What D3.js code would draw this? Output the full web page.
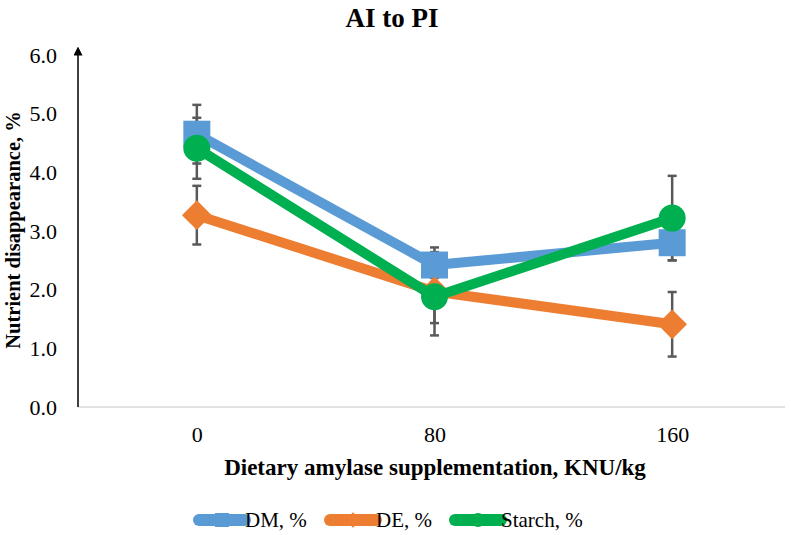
<!DOCTYPE html>
<html>
<head>
<meta charset="utf-8">
<script src="https://cdn.jsdelivr.net/npm/d3@7"></script>
<style>
  body { margin: 0; background: #fff; }
  text { font-family: "Liberation Serif", "Times New Roman", serif; fill: #000; }
  .title { font-size: 27px; font-weight: bold; }
  .axis_title { font-size: 23px; font-weight: bold; }
  .y_title { font-size: 20.5px; font-weight: bold; }
  .legend text { font-size: 21px; }
</style>
</head>
<body>
<div id="chart"></div>
<script>
const categories = ["0", "80", "160"];
const yTicks = [0, 1, 2, 3, 4, 5, 6];
const dmValues = [4.65, 2.42, 2.80];
const dmErrors = [0.50, 0.22, 0.30];
const deValues = [3.27, 1.97, 1.41];
const deErrors = [0.50, 0.75, 0.55];
const starchValues = [4.41, 1.88, 3.22];
const starchErrors = [0.52, 0.45, 0.72];

const series = [
    {name: "DM, %", values: dmValues, errors: dmErrors, color: "#5B9BD5", marker: "square"},
    {name: "DE, %", values: deValues, errors: deErrors, color: "#ED7D31", marker: "diamond"},
    {name: "Starch, %", values: starchValues, errors: starchErrors, color: "#00B050", marker: "circle"}
];

const W = 791, H = 535;
const margin = {top: 55, right: 0, bottom: 128, left: 78};
let width = W - margin.left - margin.right,
    height = H - margin.top - margin.bottom;

let svg = d3.select("#chart")
    .append("svg")
    .attr("width", W)
    .attr("height", H)
    .append("g")
    .attr("transform", "translate(" + margin.left + "," + margin.top + ")");

let x = d3.scalePoint()
    .domain(categories)
    .range([0, width])
    .padding(0.5);

let y = d3.scaleLinear()
    .domain([0, 6])
    .range([height, 0]);

// x axis (gray baseline)
svg.append("line")
    .attr("x1", 0).attr("x2", width - 6)
    .attr("y1", height).attr("y2", height)
    .attr("stroke", "#d9d9d9")
    .attr("stroke-width", 1.5);

svg.append("g")
    .attr("transform", "translate(0, " + height + ")")
    .call(d3.axisBottom(x).tickSize(0).tickPadding(19))
    .call(g => g.select(".domain").remove())
    .call(g => g.attr("font-family", null).attr("font-size", null))
    .selectAll("text")
    .style("font-size", "22px")
    .style("font-family", "'Liberation Serif', serif");

// y axis with arrow
svg.append("defs").append("marker")
    .attr("id", "arrow")
    .attr("viewBox", "0 0 10 10")
    .attr("refX", 5).attr("refY", 5)
    .attr("markerWidth", 6).attr("markerHeight", 6)
    .attr("orient", "auto")
    .append("path")
    .attr("d", "M0,0 L10,5 L0,10 z")
    .attr("fill", "#000");

svg.append("line")
    .attr("x1", 0).attr("x2", 0)
    .attr("y1", height).attr("y2", -4)
    .attr("stroke", "#000")
    .attr("stroke-width", 1.5)
    .attr("marker-end", "url(#arrow)");

svg.append("g")
    .call(d3.axisLeft(y)
        .tickValues(yTicks)
        .tickSize(0)
        .tickPadding(21)
        .tickFormat(d3.format(".1f")))
    .call(g => g.select(".domain").remove())
    .call(g => g.attr("font-family", null).attr("font-size", null))
    .selectAll("text")
    .style("font-size", "22px")
    .style("font-family", "'Liberation Serif', serif");

// error bars
series.forEach(function (s) {
    s.values.forEach(function (v, i) {
        let cx = x(categories[i]);
        let g = svg.append("g").attr("stroke", "#595959").attr("stroke-width", 2.5);
        g.append("line")
            .attr("x1", cx).attr("x2", cx)
            .attr("y1", y(v - s.errors[i])).attr("y2", y(v + s.errors[i]));
        [v - s.errors[i], v + s.errors[i]].forEach(function (e) {
            g.append("line")
                .attr("x1", cx - 4.5).attr("x2", cx + 4.5)
                .attr("y1", y(e)).attr("y2", y(e));
        });
    });
});

function drawMarker(g, type, cx, cy, color, size) {
    if (type === "square") {
        g.append("rect")
            .attr("x", cx - size / 2).attr("y", cy - size / 2)
            .attr("width", size).attr("height", size)
            .attr("fill", color);
    } else if (type === "diamond") {
        let r = size * 0.55;
        g.append("path")
            .attr("d", "M" + cx + "," + (cy - r) + "L" + (cx + r) + "," + cy +
                "L" + cx + "," + (cy + r) + "L" + (cx - r) + "," + cy + "Z")
            .attr("fill", color);
    } else {
        g.append("circle")
            .attr("cx", cx).attr("cy", cy)
            .attr("r", size / 2)
            .attr("fill", color);
    }
}

// lines and markers
series.forEach(function (s) {
    svg.append("path")
        .datum(s.values)
        .attr("fill", "none")
        .attr("stroke", s.color)
        .attr("stroke-width", 10)
        .attr("stroke-linejoin", "round")
        .attr("d", d3.line()
            .x(function (d, i) { return x(categories[i]); })
            .y(function (d) { return y(d); }));
    let mg = svg.append("g");
    s.values.forEach(function (v, i) {
        drawMarker(mg, s.marker, x(categories[i]), y(v), s.color, 27);
    });
});

// titles
svg.append("text")
    .attr("class", "title")
    .attr("x", 392 - margin.left)
    .attr("y", 27 - margin.top)
    .attr("text-anchor", "middle")
    .text("AI to PI");

svg.append("text")
    .attr("class", "y_title")
    .attr("x", -(230 - margin.top))
    .attr("y", 0)
    .attr("transform", "translate(-58, 0) rotate(-90)")
    .attr("text-anchor", "middle")
    .text("Nutrient disappearance, %");

svg.append("text")
    .attr("class", "axis_title")
    .attr("x", 435 - margin.left)
    .attr("y", 475 - margin.top)
    .attr("text-anchor", "middle")
    .text("Dietary amylase supplementation, KNU/kg");

// legend
let legend = svg.append("g")
    .attr("class", "legend")
    .attr("transform", "translate(" + (-margin.left) + "," + (520 - margin.top) + ")");
let legendX = [199, 330, 455];
series.forEach(function (s, i) {
    let lx = legendX[i];
    legend.append("line")
        .attr("x1", lx).attr("x2", lx + 46)
        .attr("y1", 0).attr("y2", 0)
        .attr("stroke", s.color)
        .attr("stroke-width", 12)
        .attr("stroke-linecap", "round");
    drawMarker(legend, s.marker, lx + 23, 0, s.color, 14);
    legend.append("text")
        .attr("x", lx + 46)
        .attr("y", 7)
        .text(s.name);
});
</script>
</body>
</html>
